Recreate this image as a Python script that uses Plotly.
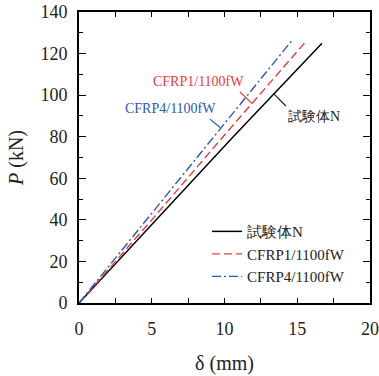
import plotly.graph_objects as go

# Data (delta in mm, P in kN)
names = ["試験体N", "CFRP1/1100fW", "CFRP4/1100fW"]
x_n = [0, 5.3, 10.6, 16.7]
y_n = [0, 40, 80, 125]
x_c1 = [0, 5.0, 9.9, 15.55]
y_c1 = [0, 40, 80, 125.5]
x_c4 = [0, 4.65, 9.3, 14.6]
y_c4 = [0, 40, 80, 126]

x_ticks = [0, 5, 10, 15, 20]
y_ticks = [0, 20, 40, 60, 80, 100, 120, 140]

FONT = "Liberation Serif"
RED = "#ee3a3a"
BLUE = "#2a58b5"

fig = go.Figure()
fig.add_trace(go.Scatter(x=x_n, y=y_n, mode="lines", name=names[0],
                         line=dict(color="black", width=1.5)))
fig.add_trace(go.Scatter(x=x_c1, y=y_c1, mode="lines", name=names[1],
                         line=dict(color=RED, width=1.4, dash="8px,4px")))
fig.add_trace(go.Scatter(x=x_c4, y=y_c4, mode="lines", name=names[2],
                         line=dict(color=BLUE, width=1.4, dash="9px,3px,2px,3px")))

axis_common = dict(showgrid=False, zeroline=False, showline=True, linecolor="black",
                   linewidth=1.8, ticks="inside", mirror="allticks", automargin=False,
                   tickcolor="black", tickwidth=1.2,
                   tickfont=dict(family=FONT, size=18, color="#222"))

fig.update_xaxes(range=[0, 20], tickvals=x_ticks, ticklen=5,
                 minor=dict(dtick=2.5, ticks="inside", ticklen=5, tickcolor="black", tickwidth=1.2),
                 title=dict(text="δ (mm)", font=dict(family=FONT, size=20, color="#222"), standoff=18),
                 ticklabelstandoff=8, **axis_common)
fig.update_yaxes(range=[0, 140], tickvals=y_ticks, ticklen=7,
                 minor=dict(dtick=10, ticks="inside", ticklen=4, tickcolor="black", tickwidth=1.2),
                 title=dict(text="<i>P</i> (kN)", font=dict(family=FONT, size=20, color="#222"), standoff=12),
                 ticklabelstandoff=6, **axis_common)

ann_font = dict(family=FONT, size=14)
fig.add_annotation(x=0.409, y=0.760, xref="paper", yref="paper", text=names[1],
                   xanchor="center", yanchor="middle",
                   showarrow=False, font=dict(color=RED, **ann_font))
fig.add_annotation(x=0.316, y=0.669, xref="paper", yref="paper", text=names[2],
                   xanchor="center", yanchor="middle",
                   showarrow=False, font=dict(color=BLUE, **ann_font))
fig.add_annotation(x=0.808, y=0.642, xref="paper", yref="paper", text=names[0],
                   xanchor="center", yanchor="middle",
                   showarrow=False, font=dict(color="#222", **ann_font))

fig.add_shape(type="line", xref="paper", yref="paper", x0=0.553, y0=0.725, x1=0.595, y1=0.685,
              line=dict(color=RED, width=1.2))
fig.add_shape(type="line", xref="paper", yref="paper", x0=0.450, y0=0.632, x1=0.485, y1=0.603,
              line=dict(color=BLUE, width=1.2))
fig.add_shape(type="line", xref="paper", yref="paper", x0=0.667, y0=0.721, x1=0.711, y1=0.677,
              line=dict(color="#222", width=1.2))

fig.update_layout(
    width=379, height=376,
    margin=dict(l=79, r=9, t=12, b=73, autoexpand=False),
    paper_bgcolor="white", plot_bgcolor="white",
    font=dict(family=FONT, color="#222"),
    legend=dict(x=0.44, y=0.302, xanchor="left", yanchor="top",
                bgcolor="rgba(0,0,0,0)", font=dict(family=FONT, size=15, color="#222"),
                tracegroupgap=0, itemwidth=30),
)

# remove the default 8px page margin so the figure sits at the window's corner
fig.write_html("out.html", config={"displayModeBar": False},
               post_script="document.body.style.margin='0';")
